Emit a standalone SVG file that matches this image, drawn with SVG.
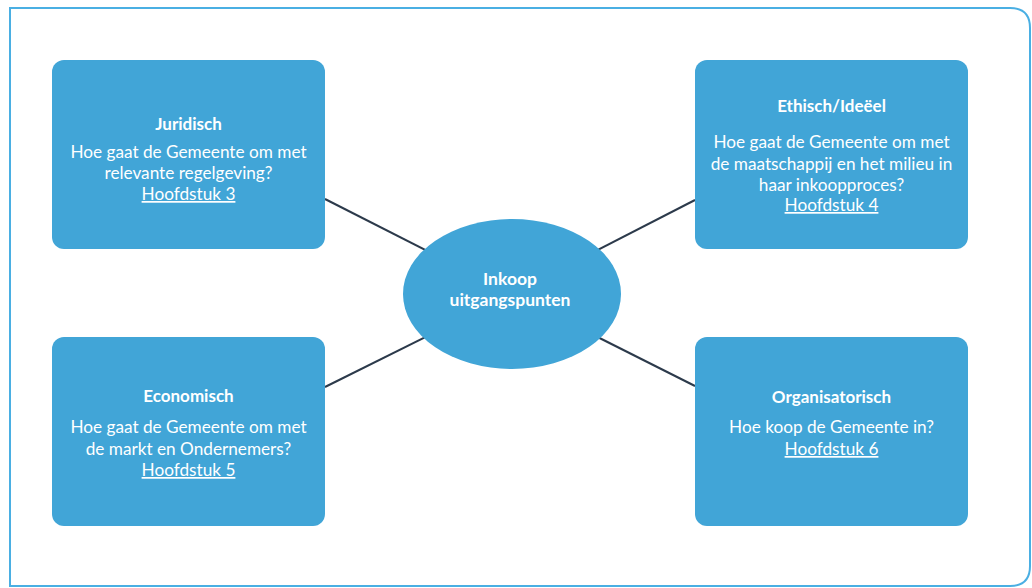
<svg xmlns="http://www.w3.org/2000/svg" width="1032" height="588" viewBox="0 0 1032 588">
<style>
.box{fill:#41a5d7;}
.t{font-family:Lato,"Liberation Sans",sans-serif;fill:#ffffff;text-anchor:middle;}
.h{font-weight:bold;font-size:17px;}
.e{font-weight:bold;font-size:17.5px;}
.b{font-size:17.2px;}
.u{text-decoration:underline;}
.c{stroke:#2c3a4b;stroke-width:2;fill:none;}
</style>
<rect x="0" y="0" width="1032" height="588" fill="#ffffff"/>
<path id="frame" d="M10,8 H1010 Q1030,8 1030,28 V566 Q1030,586 1010,586 H10 Z" fill="none" stroke="#4aafe3" stroke-width="2"/>
<g id="connectors">
<line class="c" x1="325" y1="199" x2="512" y2="294"/>
<line class="c" x1="695" y1="200" x2="512" y2="294"/>
<line class="c" x1="325" y1="387" x2="512" y2="294"/>
<line class="c" x1="695" y1="386" x2="512" y2="294"/>
</g>
<g id="center">
<ellipse class="box" cx="512" cy="294" rx="109" ry="75"/>
<text class="t e" x="510" y="285">Inkoop</text>
<text class="t e" x="510" y="306">uitgangspunten</text>
</g>
<g id="juridisch">
<rect class="box" x="52" y="60" width="273" height="189" rx="12"/>
<text class="t h" x="188.5" y="129.5">Juridisch</text>
<text class="t b" x="188.5" y="157.5">Hoe gaat de Gemeente om met</text>
<text class="t b" x="188.5" y="179">relevante regelgeving?</text>
<text class="t b u" x="188.5" y="200">Hoofdstuk 3</text>
</g>
<g id="ethisch">
<rect class="box" x="695" y="60" width="273" height="189" rx="12"/>
<text class="t h" x="831.5" y="112">Ethisch/Ideëel</text>
<text class="t b" x="831.5" y="148">Hoe gaat de Gemeente om met</text>
<text class="t b" x="831.5" y="169.5">de maatschappij en het milieu in</text>
<text class="t b" x="831.5" y="190.5">haar inkoopproces?</text>
<text class="t b u" x="831.5" y="211">Hoofdstuk 4</text>
</g>
<g id="economisch">
<rect class="box" x="52" y="337" width="273" height="189" rx="12"/>
<text class="t h" x="188.5" y="401.5">Economisch</text>
<text class="t b" x="188.5" y="433">Hoe gaat de Gemeente om met</text>
<text class="t b" x="188.5" y="455">de markt en Ondernemers?</text>
<text class="t b u" x="188.5" y="476">Hoofdstuk 5</text>
</g>
<g id="organisatorisch">
<rect class="box" x="695" y="337" width="273" height="189" rx="12"/>
<text class="t h" x="831.5" y="403">Organisatorisch</text>
<text class="t b" x="831.5" y="433">Hoe koop de Gemeente in?</text>
<text class="t b u" x="831.5" y="455">Hoofdstuk 6</text>
</g>
</svg>
